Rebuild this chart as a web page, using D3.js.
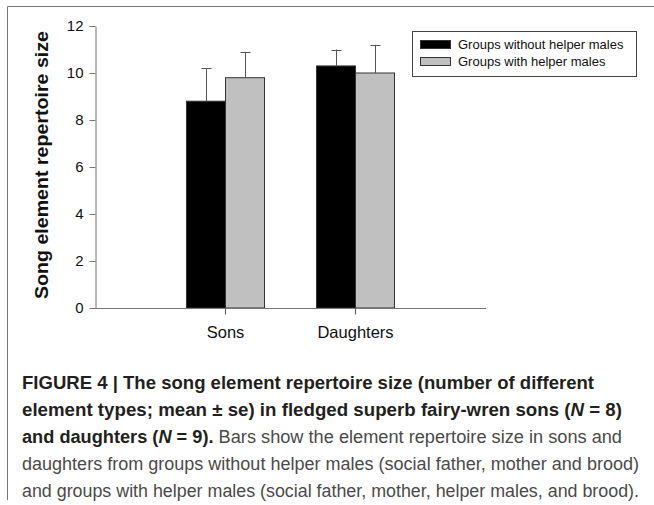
<!DOCTYPE html>
<html>
<head>
<meta charset="utf-8">
<script src="https://cdn.jsdelivr.net/npm/d3@7"></script>
<style>
  body { margin: 0; background: #fff; }
  svg { display: block; font-family: "Liberation Sans", Arial, sans-serif; }
</style>
</head>
<body>
<svg id="chart" width="654" height="505"></svg>
<script>
// Data
const categories = ["Sons", "Daughters"];
const seriesNames = ["Groups without helper males", "Groups with helper males"];
const meanWithout = [8.8, 10.3];
const seWithout = [1.4, 0.7];
const meanWith = [9.8, 10.0];
const seWith = [1.1, 1.2];
const yTicks = [0, 2, 4, 6, 8, 10, 12];

const colors = ["#000000", "#c0c0c0"];

// Build rows for drawing
const rows = [];
categories.forEach((c, i) => {
    rows.push({ cat: c, key: seriesNames[0], mean: meanWithout[i], se: seWithout[i] });
    rows.push({ cat: c, key: seriesNames[1], mean: meanWith[i], se: seWith[i] });
});

const svg = d3.select("#chart");

// Figure frame (top and left rule)
svg.append("line").attr("x1", 7.5).attr("x2", 654).attr("y1", 6.5).attr("y2", 6.5)
    .attr("stroke", "#777").attr("stroke-width", 1);
svg.append("line").attr("x1", 7.5).attr("x2", 7.5).attr("y1", 6.5).attr("y2", 500)
    .attr("stroke", "#777").attr("stroke-width", 1);

// Scales
const x = d3.scaleBand().domain(categories).range([95, 486]).paddingInner(0.4).paddingOuter(0.704);
const xSub = d3.scaleBand().domain(seriesNames).range([0, x.bandwidth()]);
const y = d3.scaleLinear().domain([0, 12]).range([308, 26]);

// Bars
svg.selectAll(".bar")
    .data(rows)
    .enter().append("rect")
    .attr("class", "bar")
    .attr("x", d => x(d.cat) + xSub(d.key))
    .attr("y", d => y(d.mean))
    .attr("width", xSub.bandwidth())
    .attr("height", d => y(0) - y(d.mean))
    .style("fill", d => colors[seriesNames.indexOf(d.key)])
    .style("stroke", "#333")
    .style("stroke-width", 1);

// Error bars (upper only)
const err = svg.selectAll(".err")
    .data(rows)
    .enter().append("g")
    .attr("class", "err")
    .attr("transform", d => `translate(${Math.round(x(d.cat) + xSub(d.key) + xSub.bandwidth() / 2) + 0.5},0)`);
err.append("line")
    .attr("y1", d => y(d.mean)).attr("y2", d => y(d.mean + d.se))
    .attr("stroke", "#555");
err.append("line")
    .attr("x1", -5).attr("x2", 5)
    .attr("y1", d => Math.round(y(d.mean + d.se)) + 0.5).attr("y2", d => Math.round(y(d.mean + d.se)) + 0.5)
    .attr("stroke", "#555");

// Y axis
const yAxis = svg.append("g")
    .attr("transform", "translate(95.5,0)")
    .call(d3.axisLeft(y).tickValues(yTicks).tickSize(6).tickSizeOuter(0).tickPadding(6));
yAxis.select(".domain").attr("stroke", "#777");
yAxis.selectAll(".tick line").attr("stroke", "#777");
yAxis.selectAll("text").style("font-size", "15px").style("fill", "#111")
    .style("font-family", "'Liberation Sans', Arial, sans-serif");

// X axis
const xAxis = svg.append("g")
    .attr("transform", "translate(0,308.5)")
    .call(d3.axisBottom(x).tickSize(6).tickSizeOuter(0).tickPadding(12));
xAxis.select(".domain").attr("d", "M95,0H486").attr("stroke", "#777");
xAxis.selectAll(".tick line").attr("stroke", "#555");
xAxis.selectAll("text").style("font-size", "16.5px").style("fill", "#111")
    .style("font-family", "'Liberation Sans', Arial, sans-serif");

// Y axis title
svg.append("text")
    .attr("transform", "translate(48,165) rotate(-90)")
    .attr("text-anchor", "middle")
    .attr("textLength", 268)
    .attr("lengthAdjust", "spacingAndGlyphs")
    .style("font-size", "18.5px")
    .style("font-weight", "bold")
    .style("fill", "#111")
    .text("Song element repertoire size");

// Legend
const legend = svg.append("g").attr("transform", "translate(412,31)");
legend.append("rect")
    .attr("x", 0.5).attr("y", 0.5).attr("width", 224).attr("height", 45)
    .style("fill", "#fff").style("stroke", "#444");
const item = legend.selectAll(".legend")
    .data(seriesNames)
    .enter().append("g")
    .attr("class", "legend")
    .attr("transform", (d, i) => `translate(8,${9 + i * 17})`);
item.append("rect")
    .attr("x", 0.5).attr("y", 0.5).attr("width", 30).attr("height", 8)
    .style("fill", (d, i) => colors[i]).style("stroke", "#333");
item.append("text")
    .attr("x", 38).attr("y", 9)
    .style("font-size", "13px")
    .style("fill", "#111")
    .text(d => d);

// Caption
const captionLines = [
    { len: 572, parts: [{ t: "FIGURE 4 | The song element repertoire size (number of different", b: true }] },
    { len: 600, parts: [{ t: "element types; mean \u00b1 se) in fledged superb fairy-wren sons (", b: true }, { t: "N", b: true, i: true }, { t: " = 8)", b: true }] },
    { len: 600, parts: [{ t: "and daughters (", b: true }, { t: "N", b: true, i: true }, { t: " = 9).", b: true }, { t: " Bars show the element repertoire size in sons and", b: false }] },
    { len: 617, parts: [{ t: "daughters from groups without helper males (social father, mother and brood)", b: false }] },
    { len: 617, parts: [{ t: "and groups with helper males (social father, mother, helper males, and brood).", b: false }] }
];
const captionY = [389, 416, 443, 470, 497];

const caption = svg.selectAll(".caption")
    .data(captionLines)
    .enter().append("text")
    .attr("class", "caption")
    .attr("x", 22)
    .attr("y", (d, i) => captionY[i])
    .attr("textLength", d => d.len)
    .attr("lengthAdjust", "spacingAndGlyphs")
    .style("font-size", "17.5px");
caption.selectAll("tspan")
    .data(d => d.parts)
    .enter().append("tspan")
    .style("font-weight", d => d.b ? "bold" : "normal")
    .style("font-style", d => d.i ? "italic" : "normal")
    .style("fill", d => d.b ? "#231f20" : "#4a4a4a")
    .text(d => d.t);
</script>
</body>
</html>
